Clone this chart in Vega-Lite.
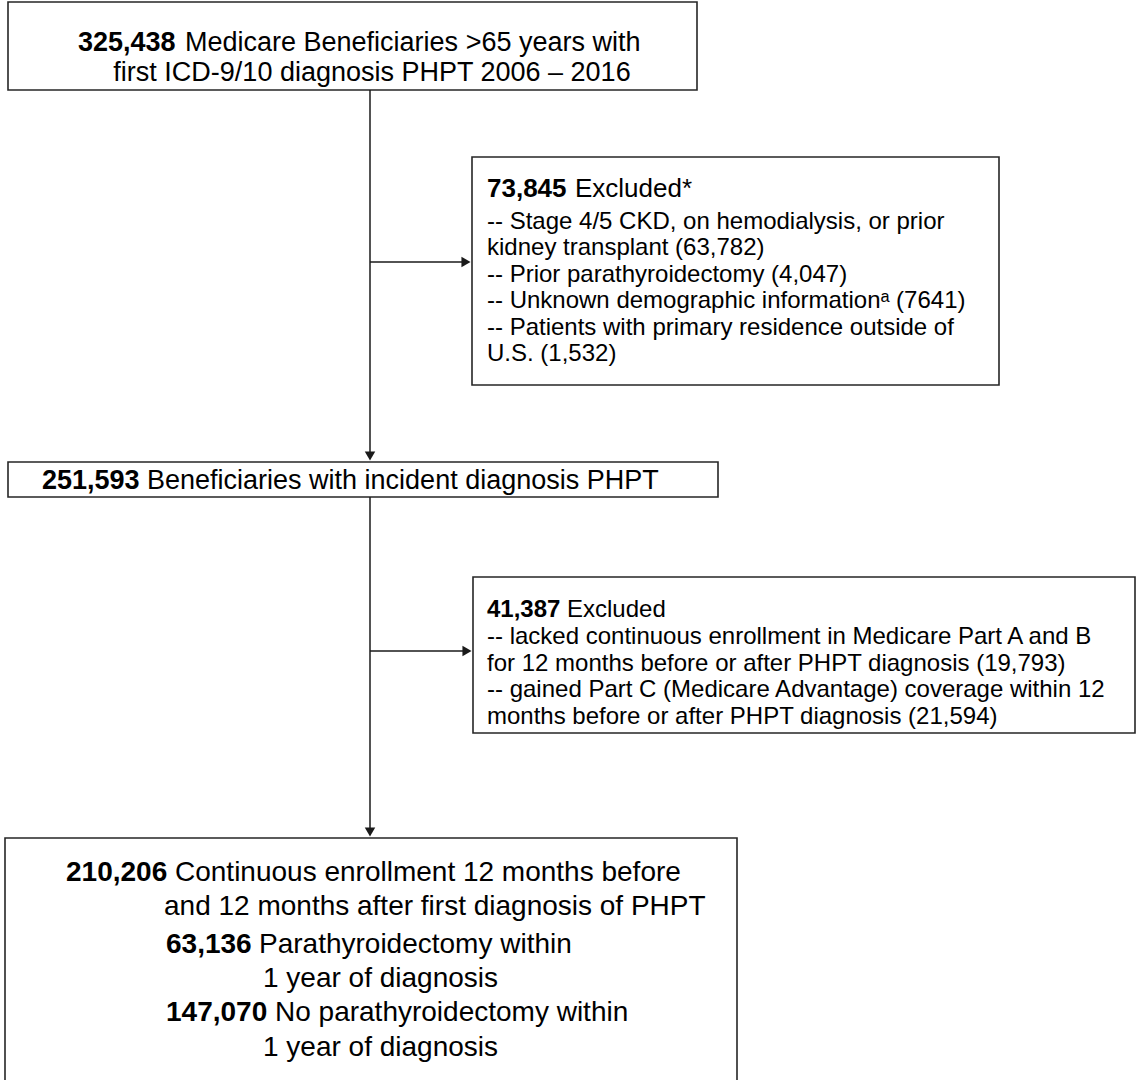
{
  "$schema": "https://vega.github.io/schema/vega-lite/v6.json",
  "width": 1136,
  "height": 1080,
  "padding": 0,
  "autosize": {"type": "fit", "contains": "padding"},
  "background": "white",
  "config": {"view": {"stroke": null}},
  "datasets": {
    "boxes": [
      {"box": "start", "x": 8, "x2": 697, "y": 2, "y2": 90},
      {"box": "excl1", "x": 472, "x2": 999, "y": 157, "y2": 385},
      {"box": "incident", "x": 8, "x2": 718, "y": 462, "y2": 497},
      {"box": "excl2", "x": 473, "x2": 1135, "y": 577, "y2": 733},
      {"box": "final", "x": 5, "x2": 737, "y": 838, "y2": 1095}
    ],
    "links": [
      {"x": 370, "x2": 370, "y": 90, "y2": 456},
      {"x": 370, "x2": 466, "y": 262, "y2": 262},
      {"x": 370, "x2": 370, "y": 497, "y2": 832},
      {"x": 370, "x2": 467, "y": 651, "y2": 651}
    ],
    "heads": [
      {"dir": "right", "x": 466, "y": 262},
      {"dir": "down", "x": 370, "y": 456},
      {"dir": "right", "x": 467, "y": 651},
      {"dir": "down", "x": 370, "y": 832}
    ],
    "lines": [
      {"box": "start", "x": 78, "xl": 185, "y": 43, "count": "325,438", "label": "Medicare Beneficiaries >65 years with", "align": "left"},
      {"box": "start", "x": 372, "xl": 372, "y": 73, "count": "", "label": "first ICD-9/10 diagnosis PHPT 2006 – 2016", "align": "center"},
      {"box": "excl1", "x": 487, "xl": 575, "y": 189, "count": "73,845", "label": "Excluded*", "align": "left"},
      {"box": "excl1", "x": 487, "xl": 487, "y": 222, "count": "", "label": "-- Stage 4/5 CKD, on hemodialysis, or prior", "align": "left"},
      {"box": "excl1", "x": 487, "xl": 487, "y": 248, "count": "", "label": "kidney transplant (63,782)", "align": "left"},
      {"box": "excl1", "x": 487, "xl": 487, "y": 275, "count": "", "label": "-- Prior parathyroidectomy (4,047)", "align": "left"},
      {"box": "excl1", "x": 487, "xl": 487, "y": 301, "count": "", "label": "-- Unknown demographic informationᵃ (7641)", "align": "left"},
      {"box": "excl1", "x": 487, "xl": 487, "y": 328, "count": "", "label": "-- Patients with primary residence outside of", "align": "left"},
      {"box": "excl1", "x": 487, "xl": 487, "y": 354, "count": "", "label": "U.S. (1,532)", "align": "left"},
      {"box": "incident", "x": 42, "xl": 147, "y": 481, "count": "251,593", "label": "Beneficiaries with incident diagnosis PHPT", "align": "left"},
      {"box": "excl2", "x": 487, "xl": 567, "y": 610, "count": "41,387", "label": "Excluded", "align": "left"},
      {"box": "excl2", "x": 487, "xl": 487, "y": 637, "count": "", "label": "-- lacked continuous enrollment in Medicare Part A and B", "align": "left"},
      {"box": "excl2", "x": 487, "xl": 487, "y": 664, "count": "", "label": "for 12 months before or after PHPT diagnosis (19,793)", "align": "left"},
      {"box": "excl2", "x": 487, "xl": 487, "y": 690, "count": "", "label": "-- gained Part C (Medicare Advantage) coverage within 12", "align": "left"},
      {"box": "excl2", "x": 487, "xl": 487, "y": 717, "count": "", "label": "months before or after PHPT diagnosis (21,594)", "align": "left"},
      {"box": "final", "x": 66, "xl": 175, "y": 873, "count": "210,206", "label": "Continuous enrollment 12 months before", "align": "left"},
      {"box": "final", "x": 164, "xl": 164, "y": 907, "count": "", "label": "and 12 months after first diagnosis of PHPT", "align": "left"},
      {"box": "final", "x": 166, "xl": 259, "y": 945, "count": "63,136", "label": "Parathyroidectomy within", "align": "left"},
      {"box": "final", "x": 263, "xl": 263, "y": 979, "count": "", "label": "1 year of diagnosis", "align": "left"},
      {"box": "final", "x": 166, "xl": 275, "y": 1013, "count": "147,070", "label": "No parathyroidectomy within", "align": "left"},
      {"box": "final", "x": 263, "xl": 263, "y": 1048, "count": "", "label": "1 year of diagnosis", "align": "left"}
    ]
  },
  "layer": [
    {
      "data": {"name": "boxes"},
      "mark": {"type": "rect", "fill": "white", "stroke": "#262626", "strokeWidth": 1.6, "clip": true},
      "encoding": {
        "x": {"field": "x", "type": "quantitative", "scale": {"domain": [0, 1136], "nice": false, "zero": false}, "axis": null},
        "x2": {"field": "x2"},
        "y": {"field": "y", "type": "quantitative", "scale": {"domain": [0, 1080], "nice": false, "zero": false, "reverse": true}, "axis": null},
        "y2": {"field": "y2"}
      }
    },
    {
      "data": {"name": "links"},
      "mark": {"type": "rule", "color": "#1a1a1a", "strokeWidth": 1.5},
      "encoding": {
        "x": {"field": "x", "type": "quantitative"},
        "x2": {"field": "x2"},
        "y": {"field": "y", "type": "quantitative"},
        "y2": {"field": "y2"}
      }
    },
    {
      "data": {"name": "heads"},
      "mark": {"type": "point", "filled": true, "color": "#1a1a1a", "size": 110, "opacity": 1},
      "encoding": {
        "x": {"field": "x", "type": "quantitative"},
        "y": {"field": "y", "type": "quantitative"},
        "shape": {"field": "dir", "type": "nominal", "scale": {"domain": ["right", "down"], "range": ["triangle-right", "triangle-down"]}, "legend": null}
      }
    },
    {
      "data": {"name": "lines"},
      "transform": [{"filter": "datum.count != '' && (datum.box == 'start' || datum.box == 'incident')"}],
      "mark": {"type": "text", "align": "left", "baseline": "middle", "font": "Liberation Sans", "fontSize": 27, "fontWeight": "bold", "color": "black"},
      "encoding": {"x": {"field": "x", "type": "quantitative"}, "y": {"field": "y", "type": "quantitative"}, "text": {"field": "count"}}
    },
    {
      "data": {"name": "lines"},
      "transform": [{"filter": "(datum.box == 'start' || datum.box == 'incident') && datum.align == 'left'"}],
      "mark": {"type": "text", "align": "left", "baseline": "middle", "font": "Liberation Sans", "fontSize": 27, "color": "black"},
      "encoding": {"x": {"field": "xl", "type": "quantitative"}, "y": {"field": "y", "type": "quantitative"}, "text": {"field": "label"}}
    },
    {
      "data": {"name": "lines"},
      "transform": [{"filter": "datum.align == 'center'"}],
      "mark": {"type": "text", "align": "center", "baseline": "middle", "font": "Liberation Sans", "fontSize": 27, "color": "black"},
      "encoding": {"x": {"field": "xl", "type": "quantitative"}, "y": {"field": "y", "type": "quantitative"}, "text": {"field": "label"}}
    },
    {
      "data": {"name": "lines"},
      "transform": [{"filter": "datum.count != '' && datum.box == 'excl1'"}],
      "mark": {"type": "text", "align": "left", "baseline": "middle", "font": "Liberation Sans", "fontSize": 26, "fontWeight": "bold", "color": "black"},
      "encoding": {"x": {"field": "x", "type": "quantitative"}, "y": {"field": "y", "type": "quantitative"}, "text": {"field": "count"}}
    },
    {
      "data": {"name": "lines"},
      "transform": [{"filter": "datum.count != '' && datum.box == 'excl1'"}],
      "mark": {"type": "text", "align": "left", "baseline": "middle", "font": "Liberation Sans", "fontSize": 26, "color": "black"},
      "encoding": {"x": {"field": "xl", "type": "quantitative"}, "y": {"field": "y", "type": "quantitative"}, "text": {"field": "label"}}
    },
    {
      "data": {"name": "lines"},
      "transform": [{"filter": "datum.count != '' && datum.box == 'excl2'"}],
      "mark": {"type": "text", "align": "left", "baseline": "middle", "font": "Liberation Sans", "fontSize": 24, "fontWeight": "bold", "color": "black"},
      "encoding": {"x": {"field": "x", "type": "quantitative"}, "y": {"field": "y", "type": "quantitative"}, "text": {"field": "count"}}
    },
    {
      "data": {"name": "lines"},
      "transform": [{"filter": "(datum.box == 'excl1' && datum.count == '') || datum.box == 'excl2'"}],
      "mark": {"type": "text", "align": "left", "baseline": "middle", "font": "Liberation Sans", "fontSize": 24, "color": "black"},
      "encoding": {"x": {"field": "xl", "type": "quantitative"}, "y": {"field": "y", "type": "quantitative"}, "text": {"field": "label"}}
    },
    {
      "data": {"name": "lines"},
      "transform": [{"filter": "datum.count != '' && datum.box == 'final'"}],
      "mark": {"type": "text", "align": "left", "baseline": "middle", "font": "Liberation Sans", "fontSize": 28, "fontWeight": "bold", "color": "black"},
      "encoding": {"x": {"field": "x", "type": "quantitative"}, "y": {"field": "y", "type": "quantitative"}, "text": {"field": "count"}}
    },
    {
      "data": {"name": "lines"},
      "transform": [{"filter": "datum.box == 'final'"}],
      "mark": {"type": "text", "align": "left", "baseline": "middle", "font": "Liberation Sans", "fontSize": 28, "color": "black"},
      "encoding": {"x": {"field": "xl", "type": "quantitative"}, "y": {"field": "y", "type": "quantitative"}, "text": {"field": "label"}}
    }
  ]
}
